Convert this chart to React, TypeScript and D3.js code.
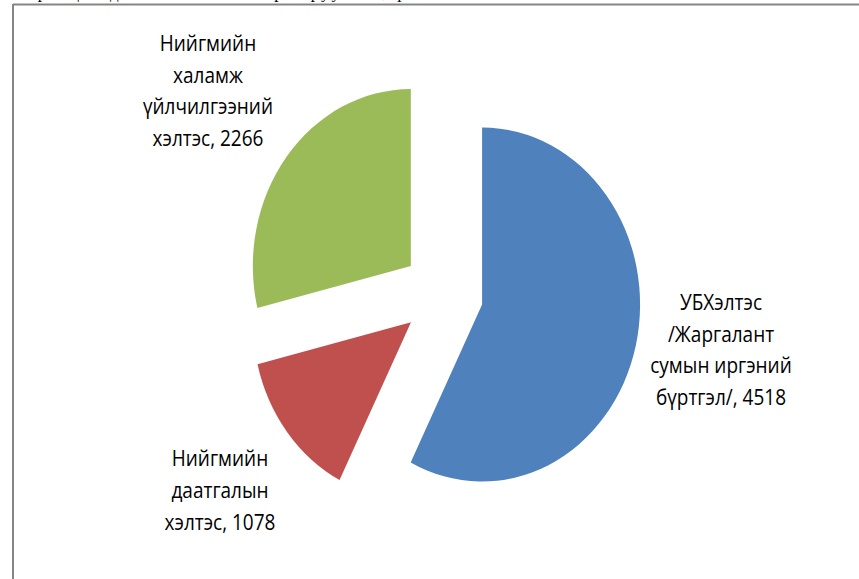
import React from "react";
import * as d3 from "d3";

// ---- data ----
const categories = [
  "УБХэлтэс /Жаргалант сумын иргэний бүртгэл/",
  "Нийгмийн даатгалын хэлтэс",
  "Нийгмийн халамж үйлчилгээний хэлтэс",
];
const values = [4518, 1078, 2266];
const labelLines = [
  ["УБХэлтэс", "/Жаргалант", "сумын иргэний", "бүртгэл/, 4518"],
  ["Нийгмийн", "даатгалын", "хэлтэс, 1078"],
  ["Нийгмийн", "халамж", "үйлчилгээний", "хэлтэс, 2266"],
];
const colors = ["#4F81BD", "#C0504D", "#9BBB59"];

// ---- layout ----
const W = 859;
const H = 579;
const CX = 442.7;
const CY = 294;
const R = 158;
const SY = 1.12;
const EXPLODE = 40.5;
const labelPos = [
  { x: 721, y: 310, dy: 31.5 },
  { x: 220, y: 466, dy: 32 },
  { x: 208, y: 51, dy: 31.7 },
];
const FONT = "'Open Sans', 'Noto Sans', sans-serif";

export default function App() {
  const pie = d3
    .pie<number>()
    .sort(null)
    .value((d) => d);
  const arcs = pie(values);
  const arc = d3.arc<d3.PieArcDatum<number>>().innerRadius(0).outerRadius(R);

  return (
    <svg
      width={W}
      height={H}
      style={{ position: "absolute", left: 0, top: 0, display: "block", background: "#fff" }}
    >
      <text
        x={14}
        y={-2}
        fontFamily="'Liberation Serif', 'DejaVu Serif', serif"
        fontSize={17}
        fill="#000"
        letterSpacing={2}
      >
        Харилцагчдын тоог хэлтэсээр харуулбал, үйлчилгээ
      </text>
      <line x1={13} y1={4.5} x2={W} y2={4.5} stroke="#858585" strokeWidth={2} />
      <line x1={13} y1={4} x2={13} y2={H} stroke="#858585" strokeWidth={2} />

      <g transform={`translate(${CX},${CY}) scale(1,${SY})`}>
        {arcs.map((a, i) => {
          const mid = (a.startAngle + a.endAngle) / 2;
          const ox = EXPLODE * Math.sin(mid);
          const oy = -EXPLODE * Math.cos(mid);
          return (
            <path
              key={categories[i]}
              d={arc(a) || ""}
              transform={`translate(${ox},${oy})`}
              fill={colors[i]}
            />
          );
        })}
      </g>

      {labelLines.map((lines, i) =>
        lines.map((ln, j) => (
          <text
            key={`${i}-${j}`}
            transform={`translate(${labelPos[i].x},${labelPos[i].y + j * labelPos[i].dy}) scale(1,${SY})`}
            textAnchor="middle"
            fontFamily={FONT}
            fontSize={19}
            fill="#000"
          >
            {ln}
          </text>
        ))
      )}
    </svg>
  );
}
